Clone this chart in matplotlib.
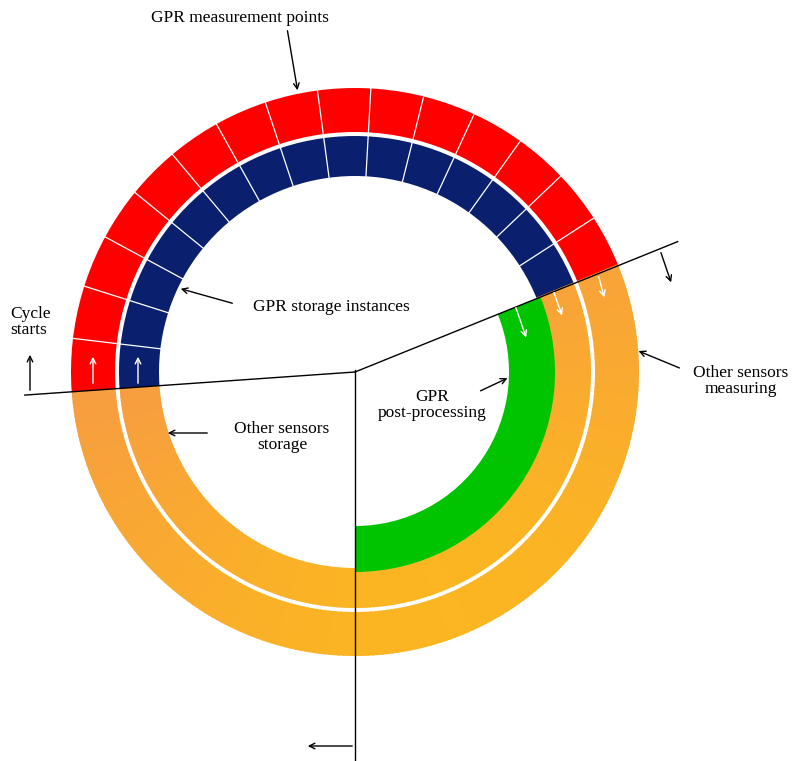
import numpy as np
import matplotlib.pyplot as plt
from matplotlib.patches import Wedge
from matplotlib.colors import to_rgb

W, H = 801, 761
cx, cy = 355, H - 372

# ring radii (pixels)
outer_ring = (240, 284)
inner_ring = (196, 236)
green_ring = (154, 200)

# angles in degrees (counter-clockwise, 0 = right)
start_angle = 184   # cycle start line
gpr_end = 22        # GPR measurement ends / other sensors begin
n_segments = 15
post_end = -90      # GPR post-processing ends at bottom

red = '#ff0000'
navy = '#0a1f6e'
green = '#00c400'
orange_a = '#f4924f'
orange_b = '#fcb81e'

plt.rcParams['font.family'] = ['Liberation Serif', 'DejaVu Serif']
fig = plt.figure(figsize=(W / 100, H / 100), dpi=100)
ax = fig.add_axes([0, 0, 1, 1])
ax.set_xlim(0, W)
ax.set_ylim(0, H)
ax.axis('off')


def px(x, y):
    return x, H - y


def band(r, t1, t2, color, seg_lines=0):
    ax.add_patch(Wedge((cx, cy), r[1], t1, t2, width=r[1] - r[0], color=color, lw=0))
    if seg_lines:
        for t in np.linspace(t1, t2, seg_lines + 1)[1:-1]:
            a = np.radians(t)
            ax.plot([cx + r[0] * np.cos(a), cx + r[1] * np.cos(a)],
                    [cy + r[0] * np.sin(a), cy + r[1] * np.sin(a)], color='white', lw=0.9)


def gradient_band(r, t1, t2):
    ts = np.linspace(t1, t2, 200)
    c1, c2 = np.array(to_rgb(orange_a)), np.array(to_rgb(orange_b))
    for a, b in zip(ts[:-1], ts[1:]):
        m = np.radians((a + b) / 2)
        f = np.clip((0.5 - 0.5 * np.sin(m) + 0.2 * np.cos(m)) * 0.9, 0, 1)
        ax.add_patch(Wedge((cx, cy), r[1], a, b + 0.3, width=r[1] - r[0],
                           color=c1 + (c2 - c1) * f, lw=0))


band(outer_ring, gpr_end, start_angle, red, n_segments)
band(inner_ring, gpr_end, start_angle, navy, n_segments)
gradient_band(outer_ring, start_angle - 360, gpr_end)
gradient_band(inner_ring, start_angle - 360, gpr_end)
band(green_ring, post_end, gpr_end, green)

# division lines
for ang, length in [(gpr_end, 348), (start_angle, 331)]:
    a = np.radians(ang)
    ax.plot([cx, cx + length * np.cos(a)], [cy, cy + length * np.sin(a)], color='black', lw=1)
ax.plot(*zip(px(355, 370), px(355, 760)), color='black', lw=1)

arrow = dict(arrowstyle='->', color='black', lw=1)
warrow = dict(arrowstyle='->', color='white', lw=1)
ax.annotate('', xy=px(30, 352), xytext=px(30, 393), arrowprops=arrow)
ax.annotate('', xy=px(672, 285), xytext=px(660, 250), arrowprops=arrow)
ax.annotate('', xy=px(305, 746), xytext=px(355, 746), arrowprops=arrow)

for (x1, y1), (x2, y2) in [((93, 386), (93, 354)), ((138, 386), (138, 354)),
                           ((598, 274), (605, 300)), ((553, 290), (563, 318)),
                           ((515, 305), (527, 340))]:
    ax.annotate('', xy=px(x2, y2), xytext=px(x1, y1), arrowprops=warrow)

fs = 12.5
labels = [
    ('GPR measurement points', (240, 18), (287, 28), (298, 93), 'center'),
    ('GPR storage instances', (331, 307), (235, 304), (178, 288), 'center'),
    ('Other sensors\nstorage', (282, 437), (210, 433), (165, 433), 'center'),
    ('GPR\npost-processing', (432, 405), (478, 392), (510, 377), 'center'),
    ('Other sensors\nmeasuring', (741, 381), (682, 369), (636, 350), 'center'),
]
for text, tpos, a0, a1, ha in labels:
    ax.text(*px(*tpos), text, ha=ha, va='center', fontsize=fs, linespacing=1.05)
    ax.annotate('', xy=px(*a1), xytext=px(*a0), arrowprops=arrow)
ax.text(*px(10, 322), 'Cycle\nstarts', ha='left', va='center', fontsize=fs, linespacing=1.05)

fig.savefig('out.png', dpi=100)
